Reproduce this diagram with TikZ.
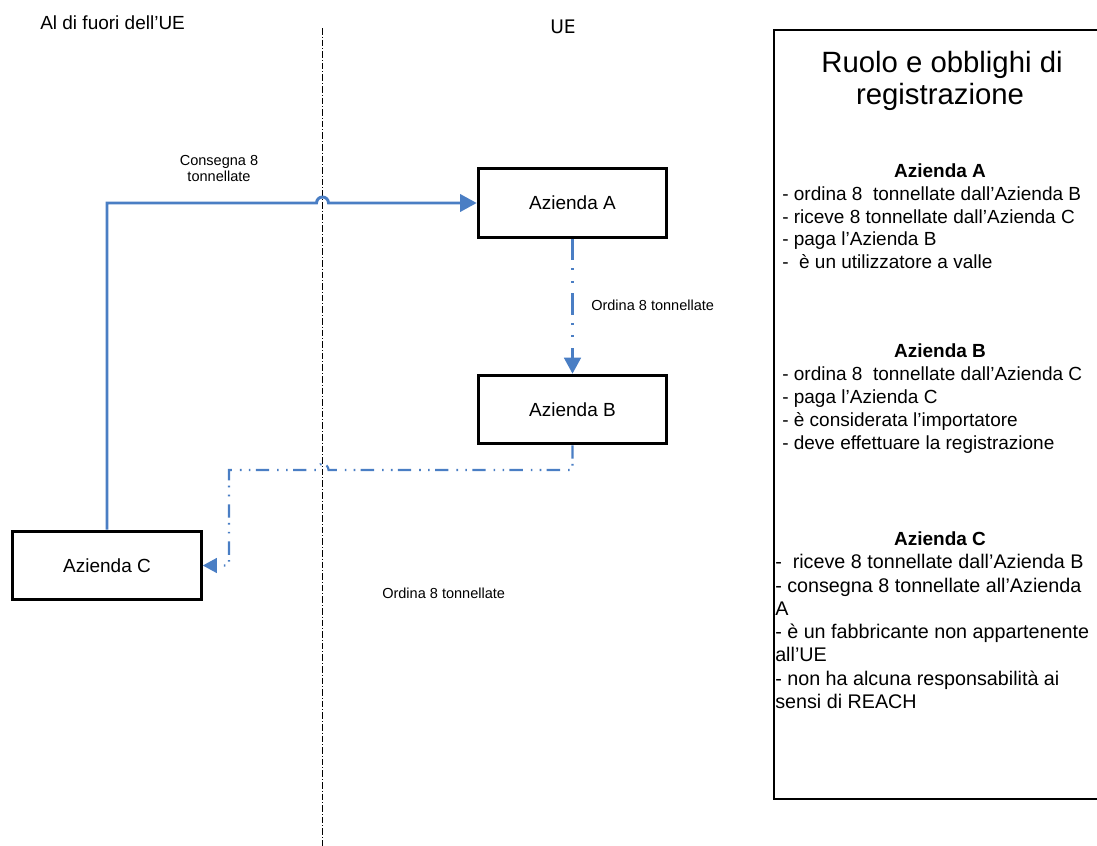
\documentclass[tikz,border=0pt]{standalone}
\usepackage{fontspec}
\setmainfont{Liberation Sans}
\newfontfamily\dejavu{DejaVu Sans}
\usetikzlibrary{arrows.meta}
\definecolor{flowblue}{HTML}{4A7EC4}
\begin{document}
\begin{tikzpicture}[x=0.75pt,y=-0.75pt,
  company/.style={draw=black,line width=2.2pt,minimum width=141.5pt,minimum height=51.5pt,inner sep=0pt,font=\fontsize{14.25}{17}\selectfont},
  solidflow/.style={draw=flowblue,line width=2.2pt,-{Triangle[length=12.5pt,width=13pt]}},
  vertflow/.style={draw=flowblue,line width=2pt,dash pattern=on 16pt off 6pt on 1.5pt off 8pt on 1.5pt off 8pt,-{Triangle[length=12pt,width=12.5pt]}},
  lowflow/.style={draw=flowblue,line width=1.6pt,dash pattern=on 10pt off 4pt on 1.2pt off 5.5pt on 1.2pt off 6pt,-{Triangle[length=10.5pt,width=11pt]}},
  divider/.style={draw=black,line width=0.7pt,dash pattern=on 5pt off 1.5pt on 0.7pt off 1.5pt},
  lbl/.style={inner sep=0pt,font=\fontsize{10.9}{12}\selectfont},
  side/.style={inner sep=0pt,font=\fontsize{14.25}{17}\selectfont},
  body/.style={anchor=base west,inner sep=0pt,font=\fontsize{14.25}{17}\selectfont},
  bodyc/.style={anchor=base west,inner sep=0pt,font=\fontsize{14.8}{17}\selectfont},
  head/.style={anchor=base,inner sep=0pt,font=\fontsize{14.25}{17}\selectfont\bfseries},
  titletext/.style={anchor=base,inner sep=0pt,font=\fontsize{22}{26}\selectfont},
]
\useasboundingbox (0,0) rectangle (1097,846);

% divider
\coordinate (dtop) at (322.5,28);
\coordinate (dbot) at (322.5,846);
\draw[divider] (dtop) -- (dbot);

% region labels
\node[side,anchor=base west] (outside) at (40,30) {Al di fuori dell’UE};
\node[side,anchor=base west,font=\dejavu\fontsize{14}{17}\selectfont] (inside) at (550,33) {UE};

% companies
\node[company] (A) at (572.5,203) {Azienda A};
\node[company] (B) at (572.5,409.5) {Azienda B};
\node[company] (C) at (107,565.5) {Azienda C};

% delivery C -> A
\coordinate (h1l) at (316.5,203);
\draw[solidflow] (C.north) |- (h1l) arc[start angle=180,end angle=360,radius=6] -- (A.west);
\node[lbl,align=center,anchor=south] (deliv) at (219,182) {Consegna 8\\tonnellate};

% order A -> B
\draw[vertflow] (A.south) -- (B.north);
\node[lbl,anchor=base west] (ordAB) at (591,310) {Ordina 8 tonnellate};

% order B -> C
\coordinate (h2r) at (328.5,470);
\coordinate (bend) at (229,470);
\draw[lowflow] (B.south) |- (h2r) arc[start angle=0,end angle=-180,radius=6] -- (bend) |- (C.east);
\node[lbl,anchor=base west] (ordBC) at (382,598) {Ordina 8 tonnellate};

% right panel
\coordinate (ptl) at (774,30);
\coordinate (pbr) at (1104,799);
\draw[line width=2pt] (ptl) rectangle (pbr);
\node[titletext] (t1) at (942,72) {Ruolo e obblighi di};
\node[titletext] (t2) at (940,104) {registrazione};

\node[head] (hA) at (940,177) {Azienda A};
\node[body] (a1) at (782,200) {- ordina 8\ \ tonnellate dall’Azienda B};
\node[body] (a2) at (782,223) {- riceve 8 tonnellate dall’Azienda C};
\node[body] (a3) at (782,245) {- paga l’Azienda B};
\node[body] (a4) at (782,268) {-\ \ è un utilizzatore a valle};

\node[head] (hB) at (940,357) {Azienda B};
\node[body] (b1) at (782,380) {- ordina 8\ \ tonnellate dall’Azienda C};
\node[body] (b2) at (782,403) {- paga l’Azienda C};
\node[body] (b3) at (782,426) {- è considerata l’importatore};
\node[body] (b4) at (782,449) {- deve effettuare la registrazione};

\node[head] (hC) at (940,545) {Azienda C};
\node[bodyc] (c1) at (775,568) {-\ \ riceve 8 tonnellate dall’Azienda B};
\node[bodyc] (c2) at (775,592) {- consegna 8 tonnellate all’Azienda};
\node[bodyc] (c3) at (775,615) {A};
\node[bodyc] (c4) at (775,638) {- è un fabbricante non appartenente};
\node[bodyc] (c5) at (775,661) {all’UE};
\node[bodyc] (c6) at (775,685) {- non ha alcuna responsabilità ai};
\node[bodyc] (c7) at (775,708) {sensi di REACH};
\end{tikzpicture}
\end{document}
